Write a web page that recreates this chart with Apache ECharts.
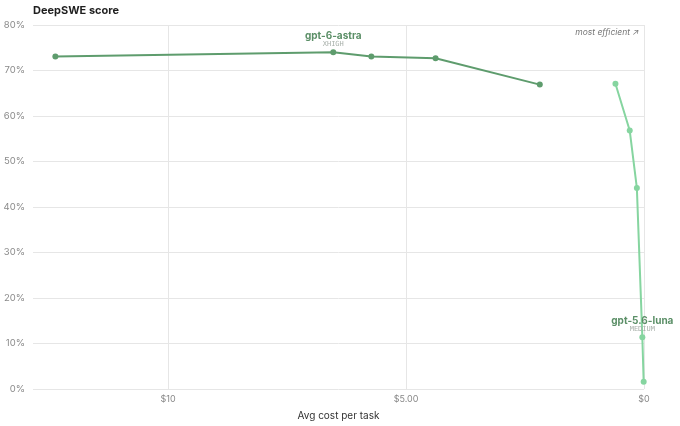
<!DOCTYPE html>
<html><head><meta charset="utf-8">
<script src="https://cdn.jsdelivr.net/npm/echarts@6/dist/echarts.min.js"></script>
<style>html,body{margin:0;padding:0;background:#fff}#c{width:680px;height:426px}</style>
</head><body><div id="c"></div>
<script>
const astraCost = [12.37, 6.53, 5.73, 4.38, 2.19];
const astraScore = [73.1, 74.0, 73.1, 72.7, 66.9];
const lunaCost = [0.60, 0.30, 0.15, 0.035, 0.007];
const lunaScore = [67.1, 56.8, 44.2, 11.4, 1.6];
const astraLabelIndex = 1;
const lunaLabelIndex = 3;
const xTickLabels = {0: '$0', 5: '$5.00', 10: '$10'};

const FONT = 'Inter, "Noto Sans", sans-serif';
const DARK = '#5e9c6d';
const LIGHT = '#86d5a0';

function buildData(xs, ys, labelIdx, name, effort) {
  return xs.map((x, i) => {
    const d = {value: [x, ys[i]]};
    if (i === labelIdx) {
      d.label = {
        show: true, position: 'top', distance: 1,
        formatter: '{a|' + name + '}\n{b|' + effort + '}',
        rich: {
          a: {fontFamily: FONT, fontSize: 10, fontWeight: 'bold', color: '#5b8f67', lineHeight: 9, align: 'center'},
          b: {fontFamily: '"DejaVu Sans Mono", monospace', fontSize: 7, color: '#a8b0aa', lineHeight: 8, align: 'center'}
        }
      };
    }
    return d;
  });
}

const chart = echarts.init(document.getElementById('c'));
chart.setOption({
  animation: false,
  textStyle: {fontFamily: FONT},
  title: {text: 'DeepSWE score', left: 33, top: 5, padding: 0, textStyle: {fontSize: 11, fontWeight: 'bold', color: '#1f1f1f', fontFamily: FONT}},
  graphic: [{type: 'text', right: 41, top: 28, style: {text: 'most efficient ↗', fontSize: 8.5, fontStyle: 'italic', fill: '#777', fontFamily: FONT}}],
  grid: {left: 33, right: 36, top: 25, bottom: 36},
  xAxis: {
    type: 'value', inverse: true, min: 0, max: 12.84, interval: 5,
    name: 'Avg cost per task', nameLocation: 'middle', nameGap: 22,
    nameTextStyle: {fontSize: 10, color: '#333', fontFamily: FONT},
    axisLine: {show: false}, axisTick: {show: false},
    axisLabel: {fontSize: 9, color: '#888', margin: 6, showMaxLabel: false,
      formatter: v => xTickLabels[v] !== undefined ? xTickLabels[v] : ''},
    splitLine: {show: true, showMaxLine: false, lineStyle: {color: '#e6e6e6', width: 1}}
  },
  yAxis: {
    type: 'value', min: 0, max: 80, interval: 10,
    axisLine: {show: false}, axisTick: {show: false},
    axisLabel: {fontSize: 9.5, color: '#8a8a8a', margin: 8, formatter: '{value}%'},
    splitLine: {lineStyle: {color: '#e6e6e6', width: 1}}
  },
  series: [
    {type: 'line', name: 'gpt-6-astra', data: buildData(astraCost, astraScore, astraLabelIndex, 'gpt-6-astra', 'XHIGH'),
     symbol: 'circle', symbolSize: 6, lineStyle: {color: DARK, width: 2}, itemStyle: {color: DARK}},
    {type: 'line', name: 'gpt-5.6-luna', data: buildData(lunaCost, lunaScore, lunaLabelIndex, 'gpt-5.6-luna', 'MEDIUM'),
     symbol: 'circle', symbolSize: 6, lineStyle: {color: LIGHT, width: 2}, itemStyle: {color: LIGHT}}
  ]
});
</script></body></html>
